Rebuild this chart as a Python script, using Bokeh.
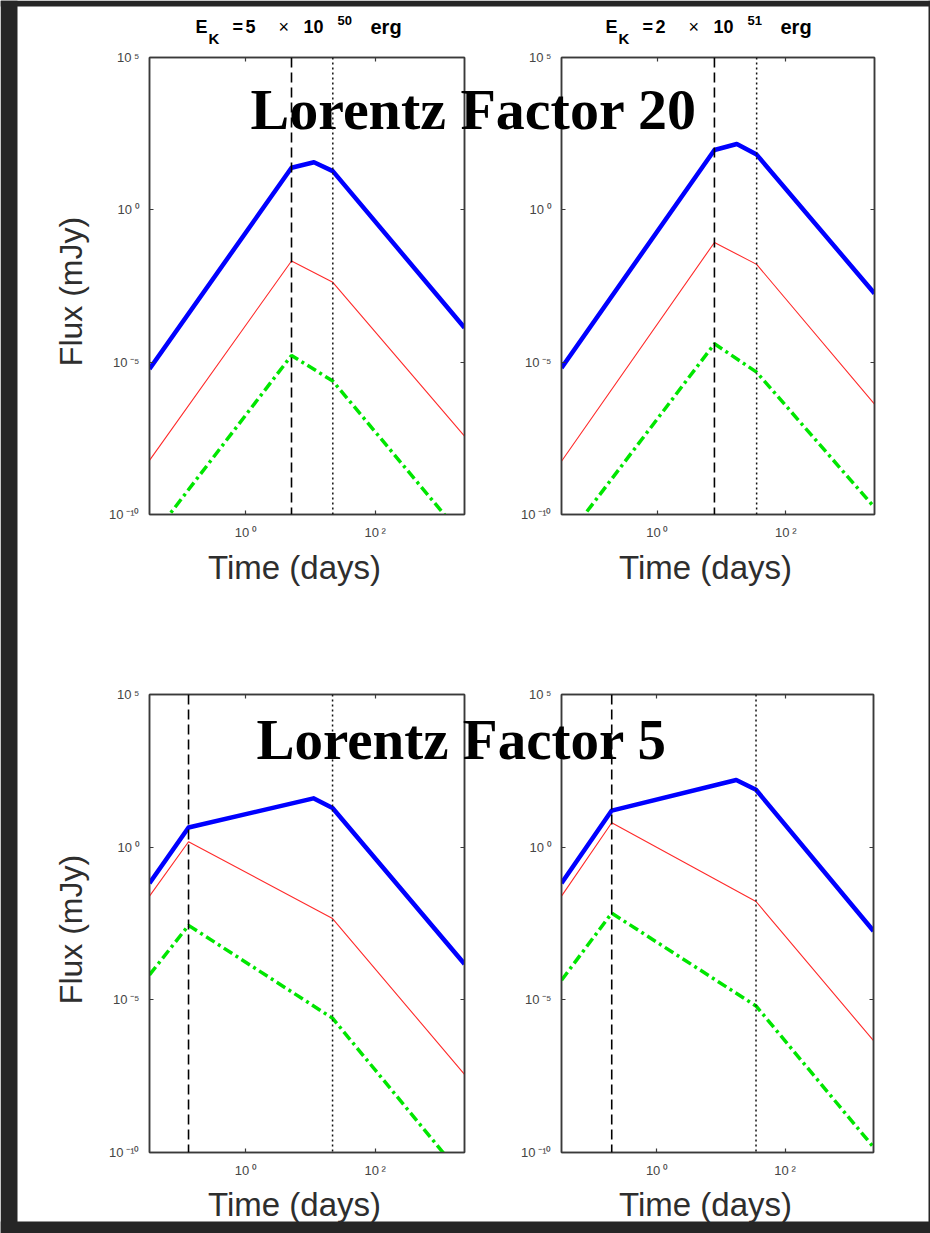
import math
from bokeh.plotting import figure
from bokeh.models import (LogAxis, FixedTicker, CustomJSTickFormatter, Span,
                          Range1d, Label, BoxAnnotation)
from bokeh.layouts import column, row
from bokeh.embed import file_html
from bokeh.resources import INLINE

# ---------------- data (time in days, flux in mJy) ----------------
X_LIMITS = [0.0324, 2400]
Y_LIMITS = [1e-10, 1e5]
X_TICKS = [1, 100]
Y_TICKS = [1e-10, 1e-5, 1, 1e5]

# top-left : E_K = 5e50 erg, Lorentz factor 20
tl_t_blue = [0.0324, 5.08, 11.3, 22.1, 2400]
tl_f_blue = [6.0e-6, 24.0, 36.3, 18.6, 1.35e-4]
tl_t_red = [0.0324, 5.08, 22.1, 2400]
tl_f_red = [6.0e-9, 2.09e-2, 4.17e-3, 3.72e-8]
tl_t_green = [0.0324, 5.08, 22.1, 2400]
tl_f_green = [1.4e-11, 1.66e-5, 2.4e-6, 1.6e-11]
tl_t_dash = 5.08
tl_t_dot = 22.1

# top-right : E_K = 2e51 erg, Lorentz factor 20
tr_t_blue = [0.0324, 7.76, 17.3, 35.2, 2400]
tr_f_blue = [6.5e-6, 92.0, 145.0, 65.0, 1.8e-3]
tr_t_red = [0.0324, 7.76, 35.2, 2400]
tr_f_red = [5.6e-9, 8.5e-2, 1.62e-2, 4.2e-7]
tr_t_green = [0.0324, 7.76, 35.2, 2400]
tr_f_green = [1.0e-11, 4.0e-5, 4.7e-6, 1.7e-10]
tr_t_dash = 7.76
tr_t_dot = 35.2

# bottom-left : E_K = 5e50 erg, Lorentz factor 5
bl_t_blue = [0.0324, 0.130, 11.1, 21.9, 2400]
bl_f_blue = [6.6e-2, 4.4, 39.8, 19.1, 1.5e-4]
bl_t_red = [0.0324, 0.130, 21.9, 2400]
bl_f_red = [2.5e-2, 1.51, 4.6e-3, 3.6e-8]
bl_t_green = [0.0324, 0.130, 21.9, 2400]
bl_f_green = [6.6e-5, 2.75e-3, 2.5e-6, 1.4e-11]
bl_t_dash = 0.130
bl_t_dot = 21.9

# bottom-right : E_K = 2e51 erg, Lorentz factor 5
br_t_blue = [0.0324, 0.197, 17.3, 35.2, 2400]
br_f_blue = [6.6e-2, 15.8, 158.0, 76.0, 1.8e-3]
br_t_red = [0.0324, 0.197, 35.2, 2400]
br_f_red = [2.5e-2, 6.3, 1.66e-2, 4.6e-7]
br_t_green = [0.0324, 0.197, 35.2, 2400]
br_f_green = [4.4e-5, 6.9e-3, 6.3e-6, 1.5e-10]
br_t_dash = 0.197
br_t_dot = 35.2

X_LABEL = "Time (days)"
Y_LABEL = "Flux (mJy)"
OVERLAY_TOP = "Lorentz Factor 20"
OVERLAY_BOTTOM = "Lorentz Factor 5"
TITLE_MANTISSAS = ["5", "2"]
TITLE_EXPONENTS = ["50", "51"]

# ---------------- styling ----------------
AX = "#3a3a3a"
FONT = "Liberation Sans"

SUP_FMT_CODE = """
const s = {"-": "\u207b", "0": "\u2070", "1": "\u00b9", "2": "\u00b2", "3": "\u00b3",
           "4": "\u2074", "5": "\u2075", "6": "\u2076", "7": "\u2077", "8": "\u2078", "9": "\u2079"};
const e = Math.round(Math.log10(tick));
return "10\u2009" + String(e).split("").map(c => s[c]).join("");
"""


def panel(w, h, bl, br, bt, bb, tb, fb, tr, fr, tg, fg, tdash, tdot):
    p = figure(width=w, height=h, x_axis_type="log", y_axis_type="log",
               x_range=Range1d(*X_LIMITS), y_range=Range1d(*Y_LIMITS),
               output_backend="svg", toolbar_location=None,
               min_border_left=bl, min_border_right=br,
               min_border_top=bt, min_border_bottom=bb,
               background_fill_color="white", border_fill_color="white")
    p.grid.visible = False
    p.outline_line_color = AX
    p.outline_line_width = 1.5

    right_ax = LogAxis()
    top_ax = LogAxis()
    p.add_layout(right_ax, "right")
    p.add_layout(top_ax, "above")

    for ax in p.xaxis:
        ax.ticker = FixedTicker(ticks=X_TICKS)
    for ax in p.yaxis:
        ax.ticker = FixedTicker(ticks=Y_TICKS)
    for ax in p.axis:
        ax.major_tick_in = 4
        ax.major_tick_out = 0
        ax.minor_tick_in = 0
        ax.minor_tick_out = 0
        ax.axis_line_color = AX
        ax.axis_line_width = 1.5
        ax.major_tick_line_color = AX
        ax.major_tick_line_width = 1.2
        ax.major_label_text_font = FONT
        ax.major_label_text_font_size = "13px"
        ax.major_label_text_color = "#454545"
        ax.major_label_standoff = 10
        ax.formatter = CustomJSTickFormatter(code=SUP_FMT_CODE)
    for ax in (right_ax, top_ax):
        ax.formatter = CustomJSTickFormatter(code="return '';")
        ax.major_label_text_font_size = "0px"
        ax.major_label_standoff = 0

    p.line(tb, fb, line_color="#0000ff", line_width=4.5, line_join="round")
    p.line(tr, fr, line_color="#ff2a2a", line_width=1.1)
    p.line(tg, fg, line_color="#00e600", line_width=3.5, line_dash="10 4 3 4")

    p.add_layout(Span(location=tdash, dimension="height", line_color="black",
                      line_width=1.6, line_dash="10 5"))
    p.add_layout(Span(location=tdot, dimension="height", line_color="#111111",
                      line_width=1.5, line_dash="2 3"))
    return p


tl = panel(500, 620, 149, 36, 57, 106, tl_t_blue, tl_f_blue, tl_t_red, tl_f_red,
           tl_t_green, tl_f_green, tl_t_dash, tl_t_dot)
tr = panel(430, 620, 61, 56, 57, 106, tr_t_blue, tr_f_blue, tr_t_red, tr_f_red,
           tr_t_green, tr_f_green, tr_t_dash, tr_t_dot)
bl = panel(500, 613, 149, 36, 74, 81, bl_t_blue, bl_f_blue, bl_t_red, bl_f_red,
           bl_t_green, bl_f_green, bl_t_dash, bl_t_dot)
br = panel(430, 613, 61, 57, 74, 81, br_t_blue, br_f_blue, br_t_red, br_f_red,
           br_t_green, br_f_green, br_t_dash, br_t_dot)

# ---------------- overlay: titles, axis titles, big captions, dark frame ----------------
ov = figure(width=930, height=1233, x_range=Range1d(0, 930), y_range=Range1d(1233, 0),
            x_axis_location=None, y_axis_location=None, title=None,
            output_backend="svg", toolbar_location=None, min_border=0,
            outline_line_color=None, background_fill_alpha=0, border_fill_alpha=0)
ov.grid.visible = False
ov.margin = (-1233, 0, 0, 0)


def txt(x, y, s, size, bold=True, font=FONT, color="black", align="left", angle=0.0):
    ov.add_layout(Label(x=x, y=y, text=s, text_font=font,
                        text_font_style="bold" if bold else "normal",
                        text_font_size=f"{size}px", text_color=color,
                        text_align=align, text_baseline="middle", angle=angle))


# titles  E_K = 5 x 10^50 erg  /  E_K = 2 x 10^51 erg  (y = vertical middle of the text)
for dx, mant, expo in zip((0, 410), TITLE_MANTISSAS, TITLE_EXPONENTS):
    txt(195 + dx, 26, "E", 18)
    txt(208 + dx, 38, "K", 15)
    txt(232 + dx, 26, "=", 18)
    txt(245 + dx, 26, mant, 18)
    txt(278 + dx, 26, "\u00d7", 18, bold=False)
    txt(303 + dx, 26, "10", 18)
    txt(337 + dx, 20, expo, 13)
    txt(370 + dx, 26, "erg", 20)

# axis titles
for cx, cy in ((294, 567), (705, 567), (294, 1204), (705, 1204)):
    txt(cx, cy, X_LABEL, 33, bold=False, color="#2e2e2e", align="center")
for cy in (291, 929):
    txt(70, cy, Y_LABEL, 32, bold=False, color="#2e2e2e", align="center", angle=math.pi / 2)

txt(250, 109, OVERLAY_TOP, 58, font="Liberation Serif")
txt(256, 739, OVERLAY_BOTTOM, 57, font="Liberation Serif")

BORDER = "#262626"
for (l, r, t, b) in ((0, 17, 0, 1233), (0, 930, 0, 6), (928, 930, 0, 1233), (0, 930, 1221, 1233)):
    ov.add_layout(BoxAnnotation(left=l, right=r, top=t, bottom=b, fill_color=BORDER,
                                fill_alpha=1, line_color=None))

root = column(row(tl, tr), row(bl, br), ov)
open("out.html", "w").write(file_html(root, INLINE))
